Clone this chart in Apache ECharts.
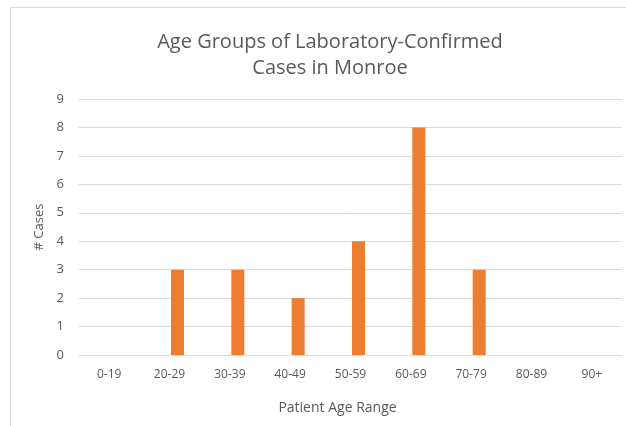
<!DOCTYPE html>
<html>
<head>
<meta charset="utf-8">
<script src="https://cdn.jsdelivr.net/npm/echarts@6/dist/echarts.min.js"></script>
<style>
  html, body { margin: 0; padding: 0; background: #fff; }
  #frame { position: absolute; left: 10px; top: 7px; width: 640px; height: 440px; border: 1px solid #d9d9d9; }
  #main { position: absolute; left: 0; top: 0; width: 626px; height: 426px; }
</style>
</head>
<body>
<div id="frame"></div>
<div id="main"></div>
<script>
  // age ranges on the x axis
  var ageGroups = ['0-19', '20-29', '30-39', '40-49', '50-59', '60-69', '70-79', '80-89', '90+'];
  // number of confirmed cases per range
  var caseCounts = [0, 3, 3, 2, 4, 8, 3, 0, 0];
  // placeholder series, empty (pushes bars right like the Excel original)
  var emptySeries = [null, null, null, null, null, null, null, null, null];

  var chart = echarts.init(document.getElementById('main'));
  var textColor = '#595959';
  var font = 'Open Sans';

  var option = {
    animation: false,
    title: {
      text: 'Age Groups of Laboratory-Confirmed\nCases in Monroe',
      left: 325,
      top: 24,
      textAlign: 'center',
      textStyle: {
        color: textColor,
        fontFamily: font,
        fontWeight: 'normal',
        fontSize: 20,
        lineHeight: 26
      }
    },
    grid: {
      left: 79,
      right: 4,
      top: 99,
      bottom: 71
    },
    xAxis: {
      type: 'category',
      data: ageGroups,
      name: 'Patient Age Range',
      nameLocation: 'middle',
      nameGap: 46,
      nameTextStyle: {
        color: textColor,
        fontFamily: font,
        fontSize: 14,
        padding: [0, 26, 0, 0]
      },
      axisLine: { lineStyle: { color: '#d9d9d9' } },
      axisTick: { show: false },
      axisLabel: {
        color: textColor,
        fontFamily: font,
        fontSize: 12,
        margin: 14
      }
    },
    yAxis: {
      type: 'value',
      min: 0,
      max: 9,
      interval: 1,
      name: '# Cases',
      nameLocation: 'middle',
      nameGap: 33,
      nameTextStyle: {
        color: textColor,
        fontFamily: font,
        fontSize: 13
      },
      axisLine: { show: false },
      axisTick: { show: false },
      axisLabel: {
        color: textColor,
        fontFamily: font,
        fontSize: 13,
        margin: 15
      },
      splitLine: { lineStyle: { color: '#d9d9d9' } }
    },
    series: [
      {
        type: 'bar',
        data: emptySeries,
        barWidth: 13,
        barGap: '23%',
        silent: true
      },
      {
        type: 'bar',
        data: caseCounts,
        barWidth: 13,
        itemStyle: { color: '#ED7D31' }
      }
    ]
  };

  chart.setOption(option);
</script>
</body>
</html>
